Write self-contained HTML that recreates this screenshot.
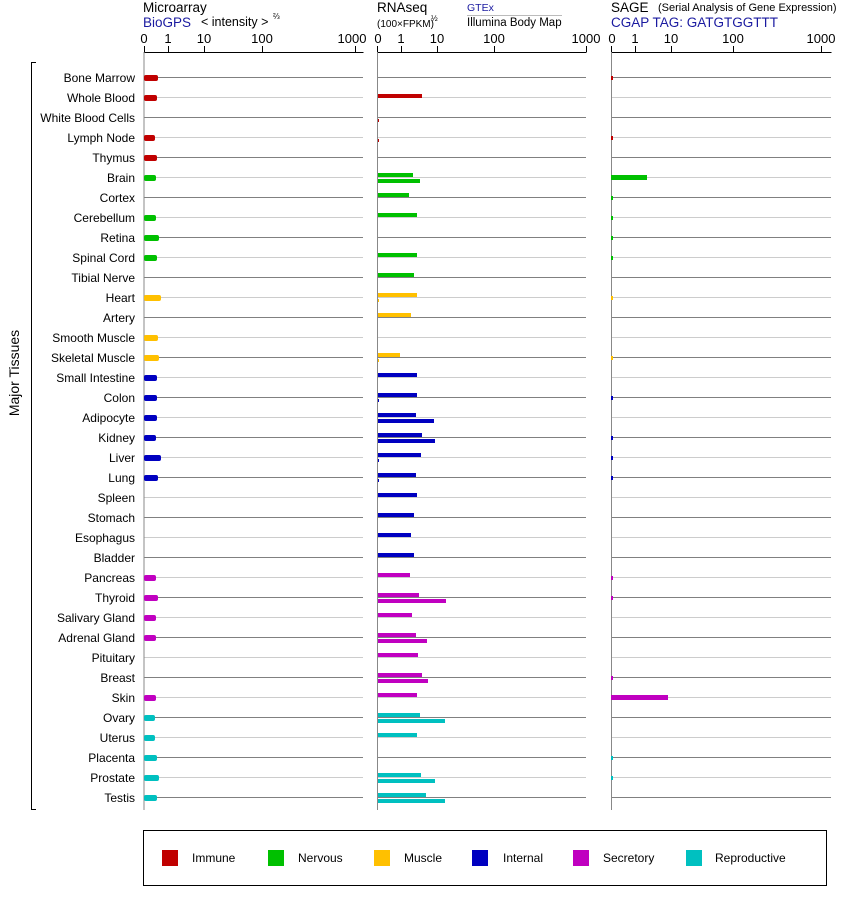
<!DOCTYPE html>
<html><head><meta charset="utf-8"><style>body{margin:0;background:#fff}svg{display:block;font-family:"Liberation Sans",Arial,sans-serif}</style></head><body>
<svg width="842" height="900" viewBox="0 0 842 900" xmlns="http://www.w3.org/2000/svg">
<defs><pattern id="rl" patternUnits="userSpaceOnUse" x="0" y="77" width="10" height="40"><rect x="0" y="0" width="10" height="1" fill="#808080"/><rect x="0" y="20" width="10" height="1" fill="#cccccc"/></pattern></defs>
<rect x="144" y="76" width="219" height="724" fill="url(#rl)"/>
<rect x="377" y="76" width="209" height="724" fill="url(#rl)"/>
<rect x="611" y="76" width="220" height="724" fill="url(#rl)"/>
<g font-size="13.5" fill="#000">
<text x="143" y="12">Microarray</text><text x="377" y="12">RNAseq</text><text x="611" y="12">SAGE</text>
<text x="143" y="27" fill="#1a1aa0">BioGPS</text><text x="201" y="26" font-size="12.5">&lt; intensity &gt;</text><text x="273" y="19" font-size="8">⅔</text>
<text x="611" y="27" fill="#1a1aa0">CGAP TAG: GATGTGGTTT</text>
</g>
<text x="658" y="11" font-size="11">(Serial Analysis of Gene Expression)</text>
<text x="377" y="27" font-size="10">(100×FPKM)</text><text x="431" y="21" font-size="8">½</text>
<text x="467" y="11" font-size="10.5" fill="#1a1aa0">GTEx</text><rect x="467" y="15" width="95" height="1" fill="#bbb"/>
<text x="467" y="26" font-size="11.5">Illumina Body Map</text>
<g font-size="13" text-anchor="middle">
<text x="144" y="43">0</text><text x="168" y="43">1</text><text x="204" y="43">10</text><text x="262" y="43">100</text><text x="352" y="43">1000</text>
<text x="378" y="43">0</text><text x="401" y="43">1</text><text x="437" y="43">10</text><text x="494" y="43">100</text><text x="586" y="43">1000</text>
<text x="612" y="43">0</text><text x="635" y="43">1</text><text x="671" y="43">10</text><text x="733" y="43">100</text><text x="821" y="43">1000</text>
</g>
<g stroke="#000" stroke-width="1" fill="none">
<path d="M144.5 52.5H363.5M144.5 46V52M168.5 46V52M204.5 46V52M262.5 46V52M355.5 46V52"/>
<path d="M377.5 52.5H586.5M377.5 46V52M401.5 46V52M437.5 46V52M494.5 46V52M586.5 46V52"/>
<path d="M611.5 52.5H831.5M611.5 46V52M635.5 46V52M671.5 46V52M733.5 46V52M821.5 46V52"/>
<path d="M36 62.5H31.5V809.5H36"/>
<rect x="143.5" y="830.5" width="683" height="55"/>
</g>
<g fill="#888"><rect x="143.5" y="52" width="1" height="758"/><rect x="377" y="52" width="1" height="758"/><rect x="611" y="52" width="1" height="758"/></g>
<text transform="translate(19,373) rotate(-90)" font-size="14" text-anchor="middle">Major Tissues</text>
<g font-size="12" text-anchor="end">
<text x="135" y="82">Bone Marrow</text><text x="135" y="102">Whole Blood</text><text x="135" y="122">White Blood Cells</text><text x="135" y="142">Lymph Node</text><text x="135" y="162">Thymus</text><text x="135" y="182">Brain</text><text x="135" y="202">Cortex</text><text x="135" y="222">Cerebellum</text><text x="135" y="242">Retina</text><text x="135" y="262">Spinal Cord</text><text x="135" y="282">Tibial Nerve</text><text x="135" y="302">Heart</text><text x="135" y="322">Artery</text><text x="135" y="342">Smooth Muscle</text><text x="135" y="362">Skeletal Muscle</text><text x="135" y="382">Small Intestine</text><text x="135" y="402">Colon</text><text x="135" y="422">Adipocyte</text><text x="135" y="442">Kidney</text><text x="135" y="462">Liver</text><text x="135" y="482">Lung</text><text x="135" y="502">Spleen</text><text x="135" y="522">Stomach</text><text x="135" y="542">Esophagus</text><text x="135" y="562">Bladder</text><text x="135" y="582">Pancreas</text><text x="135" y="602">Thyroid</text><text x="135" y="622">Salivary Gland</text><text x="135" y="642">Adrenal Gland</text><text x="135" y="662">Pituitary</text><text x="135" y="682">Breast</text><text x="135" y="702">Skin</text><text x="135" y="722">Ovary</text><text x="135" y="742">Uterus</text><text x="135" y="762">Placenta</text><text x="135" y="782">Prostate</text><text x="135" y="802">Testis</text>
</g>
<g>
<g fill="#c00000"><rect x="144" y="75" width="14" height="6" rx="2"/><rect x="144" y="95" width="13" height="6" rx="2"/><rect x="144" y="135" width="11" height="6" rx="2"/><rect x="144" y="155" width="13" height="6" rx="2"/></g>
<g fill="#00c000"><rect x="144" y="175" width="12" height="6" rx="2"/><rect x="144" y="215" width="12" height="6" rx="2"/><rect x="144" y="235" width="15" height="6" rx="2"/><rect x="144" y="255" width="13" height="6" rx="2"/></g>
<g fill="#ffc000"><rect x="144" y="295" width="17" height="6" rx="2"/><rect x="144" y="335" width="14" height="6" rx="2"/><rect x="144" y="355" width="15" height="6" rx="2"/></g>
<g fill="#0000c0"><rect x="144" y="375" width="13" height="6" rx="2"/><rect x="144" y="395" width="13" height="6" rx="2"/><rect x="144" y="415" width="13" height="6" rx="2"/><rect x="144" y="435" width="12" height="6" rx="2"/><rect x="144" y="455" width="17" height="6" rx="2"/><rect x="144" y="475" width="14" height="6" rx="2"/></g>
<g fill="#c000c0"><rect x="144" y="575" width="12" height="6" rx="2"/><rect x="144" y="595" width="14" height="6" rx="2"/><rect x="144" y="615" width="12" height="6" rx="2"/><rect x="144" y="635" width="12" height="6" rx="2"/><rect x="144" y="695" width="12" height="6" rx="2"/></g>
<g fill="#00c0c0"><rect x="144" y="715" width="11" height="6" rx="2"/><rect x="144" y="735" width="11" height="6" rx="2"/><rect x="144" y="755" width="13" height="6" rx="2"/><rect x="144" y="775" width="15" height="6" rx="2"/><rect x="144" y="795" width="13" height="6" rx="2"/></g>
</g>
<g fill="#c00000"><rect x="378" y="94" width="44" height="4"/><rect x="378" y="119" width="1" height="3"/><rect x="378" y="139" width="1" height="3"/></g>
<g fill="#00c000"><rect x="378" y="173" width="35" height="4"/><rect x="378" y="179" width="42" height="4"/><rect x="378" y="193" width="31" height="4"/><rect x="378" y="213" width="39" height="4"/><rect x="378" y="253" width="39" height="4"/><rect x="378" y="273" width="36" height="4"/></g>
<g fill="#ffc000"><rect x="378" y="293" width="39" height="4"/><rect x="378" y="299" width="1" height="3"/><rect x="378" y="313" width="33" height="4"/><rect x="378" y="353" width="22" height="4"/><rect x="378" y="359" width="1" height="3"/></g>
<g fill="#0000c0"><rect x="378" y="373" width="39" height="4"/><rect x="378" y="393" width="39" height="4"/><rect x="378" y="399" width="1" height="3"/><rect x="378" y="413" width="38" height="4"/><rect x="378" y="419" width="56" height="4"/><rect x="378" y="433" width="44" height="4"/><rect x="378" y="439" width="57" height="4"/><rect x="378" y="453" width="43" height="4"/><rect x="378" y="459" width="1" height="3"/><rect x="378" y="473" width="38" height="4"/><rect x="378" y="479" width="1" height="3"/><rect x="378" y="493" width="39" height="4"/><rect x="378" y="513" width="36" height="4"/><rect x="378" y="533" width="33" height="4"/><rect x="378" y="553" width="36" height="4"/></g>
<g fill="#c000c0"><rect x="378" y="573" width="32" height="4"/><rect x="378" y="593" width="41" height="4"/><rect x="378" y="599" width="68" height="4"/><rect x="378" y="613" width="34" height="4"/><rect x="378" y="633" width="38" height="4"/><rect x="378" y="639" width="49" height="4"/><rect x="378" y="653" width="40" height="4"/><rect x="378" y="673" width="44" height="4"/><rect x="378" y="679" width="50" height="4"/><rect x="378" y="693" width="39" height="4"/></g>
<g fill="#00c0c0"><rect x="378" y="713" width="42" height="4"/><rect x="378" y="719" width="67" height="4"/><rect x="378" y="733" width="39" height="4"/><rect x="378" y="773" width="43" height="4"/><rect x="378" y="779" width="57" height="4"/><rect x="378" y="793" width="48" height="4"/><rect x="378" y="799" width="67" height="4"/></g>
<g fill="#c00000"><rect x="611" y="76" width="2" height="4"/><rect x="611" y="136" width="2" height="4"/></g>
<g fill="#00c000"><rect x="611" y="175" width="36" height="5"/><rect x="611" y="196" width="2" height="4"/><rect x="611" y="216" width="2" height="4"/><rect x="611" y="236" width="2" height="4"/><rect x="611" y="256" width="2" height="4"/></g>
<g fill="#ffc000"><rect x="611" y="296" width="2" height="4"/><rect x="611" y="356" width="2" height="4"/></g>
<g fill="#0000c0"><rect x="611" y="396" width="2" height="4"/><rect x="611" y="436" width="2" height="4"/><rect x="611" y="456" width="2" height="4"/><rect x="611" y="476" width="2" height="4"/></g>
<g fill="#c000c0"><rect x="611" y="576" width="2" height="4"/><rect x="611" y="596" width="2" height="4"/><rect x="611" y="676" width="2" height="4"/><rect x="611" y="695" width="57" height="5"/></g>
<g fill="#00c0c0"><rect x="611" y="756" width="2" height="4"/><rect x="611" y="776" width="2" height="4"/></g>
<g font-size="12">
<rect x="162" y="850" width="16" height="16" fill="#c00000"/><text x="192" y="862">Immune</text>
<rect x="268" y="850" width="16" height="16" fill="#00c000"/><text x="298" y="862">Nervous</text>
<rect x="374" y="850" width="16" height="16" fill="#ffc000"/><text x="404" y="862">Muscle</text>
<rect x="472" y="850" width="16" height="16" fill="#0000c0"/><text x="503" y="862">Internal</text>
<rect x="573" y="850" width="16" height="16" fill="#c000c0"/><text x="603" y="862">Secretory</text>
<rect x="686" y="850" width="16" height="16" fill="#00c0c0"/><text x="715" y="862">Reproductive</text>
</g>
</svg>
</body></html>
